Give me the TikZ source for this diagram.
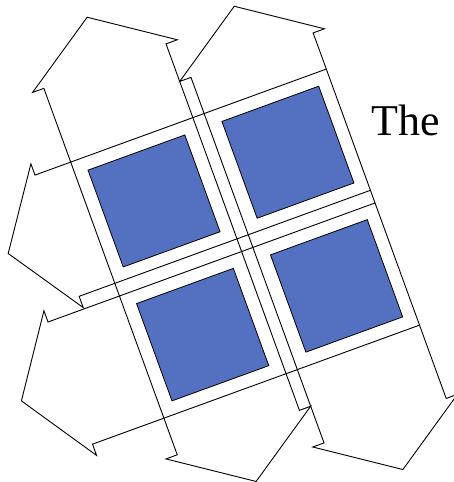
\documentclass[tikz,border=0pt]{standalone}
\usepackage{fontspec}
\setmainfont{Liberation Serif}
\definecolor{cellblue}{RGB}{84,113,193}
\begin{document}
\begin{tikzpicture}[x=1pt,y=1pt,
  outline/.style={draw=black, line width=0.9pt, line join=miter},
  bluesq/.style={draw=black, line width=0.8pt, fill=cellblue}]
\useasboundingbox (0,0) rectangle (454,-482);
\clip (0,0) rectangle (454,-482);
\begin{scope}[rotate=20]
  % blue squares
  \draw[bluesq] (24.5,-190) rectangle (127.5,-293);
  \draw[bluesq] (167,-190) rectangle (270,-293);
  \draw[bluesq] (24.5,-332) rectangle (127.5,-435.5);
  \draw[bluesq] (167,-332) rectangle (270,-435.5);
  % left column double arrow
  \draw[outline] (11,-98) -- (-1,-98) -- (76,-46) -- (153,-98) -- (141,-98)
     -- (141,-488) -- (153,-488) -- (76,-540) -- (-1,-488) -- (11,-488) -- cycle;
  % right column double arrow
  \draw[outline] (153,-138) -- (141,-138) -- (218,-86) -- (295,-138) -- (283,-138)
     -- (283,-527) -- (295,-527) -- (218,-579) -- (141,-527) -- (153,-527) -- cycle;
  % upper row arrow
  \draw[outline] (283,-176.5) -- (-27,-176.5) -- (-27,-164.5) -- (-79,-241)
     -- (-27,-317.5) -- (-27,-305.5) -- (283,-305.5);
  % lower row arrow
  \draw[outline] (283,-319) -- (-65,-319) -- (-65,-307) -- (-117,-384)
     -- (-65,-461) -- (-65,-449) -- (283,-449);
\end{scope}
\node[anchor=base west, inner sep=0pt, font=\fontsize{44}{44}\selectfont] (the) at (371,-135) {The};
\end{tikzpicture}
\end{document}
